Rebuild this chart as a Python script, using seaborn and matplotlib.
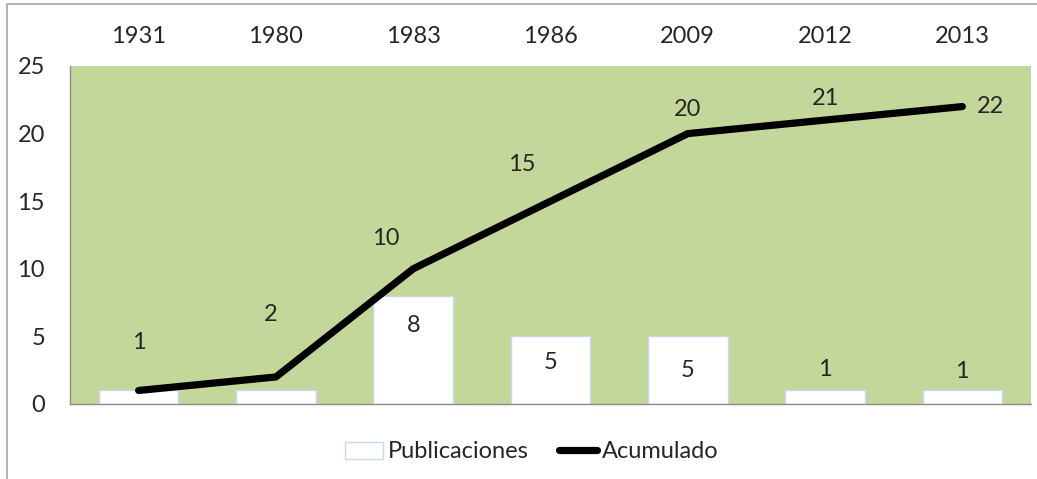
import matplotlib
matplotlib.use("Agg")
import matplotlib.pyplot as plt
from matplotlib.patches import Rectangle, Patch
from matplotlib.lines import Line2D
import seaborn as sns
import pandas as pd

years = ["1931", "1980", "1983", "1986", "2009", "2012", "2013"]
publicaciones = [1, 1, 8, 5, 5, 1, 1]
acumulado = [1, 2, 10, 15, 20, 21, 22]

# label offsets in pixels (dx, dy) for the cumulative line labels
line_lbl_off = [(0, 48), (-5, 62), (-27, 30), (-29, 37), (0, 24), (0, 22), (28, 0)]
bar_lbl_off = [0, 0, -30, -26, -34, 21, 19]

df = pd.DataFrame({"year": years, "pub": publicaciones, "acum": acumulado})

sns.set_style("white")
plt.rcParams["font.family"] = ["Lato", "DejaVu Sans"]
FS = 17

fig = plt.figure(figsize=(10.37, 4.79), dpi=100)
ax = fig.add_axes([70 / 1037, 1 - 404 / 479, (1031 - 70) / 1037, (404 - 66) / 479])
ax.set_facecolor("#C4D79B")

sns.barplot(data=df, x="year", y="pub", ax=ax, color="white", width=0.58,
            edgecolor="#C6D9F1", linewidth=1, saturation=1)
ax.plot(range(len(years)), acumulado, color="black", lw=5.2, solid_capstyle="round",
        solid_joinstyle="round", zorder=5)

for i, v in enumerate(acumulado):
    dx, dy = line_lbl_off[i]
    ax.annotate(str(v), (i, v), xytext=(dx * 0.72, dy * 0.72), textcoords="offset points",
                ha="center", va="center", fontsize=FS, zorder=6)
for i, v in enumerate(publicaciones):
    if i < 2:
        continue
    ax.annotate(str(v), (i, v), xytext=(0, bar_lbl_off[i] * 0.72), textcoords="offset points",
                ha="center", va="center", fontsize=FS, zorder=6)

ax.set_ylim(0, 25)
ax.set_yticks([0, 5, 10, 15, 20, 25])
ax.set_xlim(-0.5, len(years) - 0.5)
ax.xaxis.tick_top()
ax.tick_params(axis="both", length=0, labelsize=FS)
ax.tick_params(axis="x", pad=14)
ax.tick_params(axis="y", pad=18)
ax.set_xlabel("")
ax.set_ylabel("")
for s in ["top", "right"]:
    ax.spines[s].set_visible(False)
for s in ["left", "bottom"]:
    ax.spines[s].set_color("#8C8C8C")
    ax.spines[s].set_linewidth(1)

handles = [Patch(facecolor="white", edgecolor="#C6D9F1", label="Publicaciones"),
           Line2D([0], [0], color="black", lw=5.2, solid_capstyle="round", label="Acumulado")]
fig.legend(handles=handles, loc="center", bbox_to_anchor=(0.513, 1 - 452 / 479), ncol=2,
           frameon=False, fontsize=FS, handlelength=1.6, handletextpad=0.2, columnspacing=1.3)

fig.patches.append(Rectangle((7 / 1037, -0.1), 1.2, 1.1 - 4 / 479, transform=fig.transFigure,
                             fill=False, edgecolor="#A6A6A6", linewidth=1.2))

fig.savefig("out.png", dpi=100)
